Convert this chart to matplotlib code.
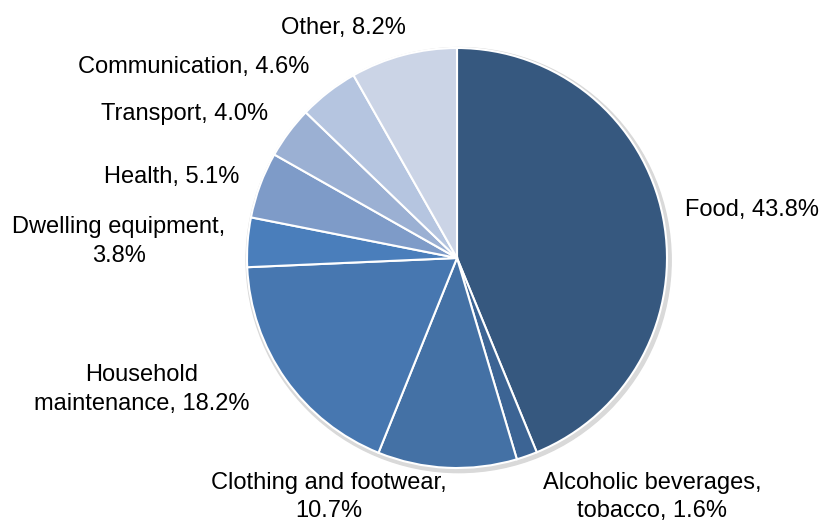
import matplotlib.pyplot as plt
from matplotlib.patches import Circle

plt.rcParams["font.family"] = ["Liberation Sans", "DejaVu Sans"]

categories = [
    "Food",
    "Alcoholic beverages,\ntobacco",
    "Clothing and footwear,\n",
    "Household\nmaintenance",
    "Dwelling equipment,\n",
    "Health",
    "Transport",
    "Communication",
    "Other",
]
shares = [43.8, 1.6, 10.7, 18.2, 3.8, 5.1, 4.0, 4.6, 8.2]
colors = [
    "#36587f", "#3c6494", "#4471a5", "#4777b0", "#4a7ebb",
    "#7e9bc8", "#9bb0d3", "#b5c5e0", "#cbd4e6",
]

# label anchor points in units of the pie radius (centre = 0, 0)
label_pos = [
    (1.086, 0.229), (0.929, -1.138), (-0.610, -1.138), (-1.50, -0.626),
    (-1.61, 0.080), (-1.357, 0.388), (-1.295, 0.688), (-1.252, 0.908),
    (-0.543, 1.093),
]


def label_text(name, val):
    if name.endswith("\n"):
        return f"{name}{val:.1f}%"
    return f"{name}, {val:.1f}%"


fig = plt.figure(figsize=(8.21, 5.22), dpi=100)
ax = fig.add_axes([0, 0, 1, 1])

# faint shadow under the pie
ax.add_patch(Circle((0.008, -0.01), 1.012, color="#d9d9d9", zorder=0))

ax.pie(
    shares,
    colors=colors,
    startangle=90,
    counterclock=False,
    radius=1.0,
    wedgeprops=dict(edgecolor="white", linewidth=1.5),
    frame=True,
)
ax.set_xlim(-457 / 210, (821 - 457) / 210)
ax.set_ylim((258 - 522) / 210, 258 / 210)
ax.set_aspect("auto")
ax.axis("off")

for i, (name, val) in enumerate(zip(categories, shares)):
    x, y = label_pos[i]
    ha = "left" if i == 0 else "center"
    ax.text(x, y, label_text(name, val), ha=ha, va="center",
            fontsize=17, color="black", multialignment="center",
            linespacing=1.4)

fig.savefig("out.png", dpi=100)
